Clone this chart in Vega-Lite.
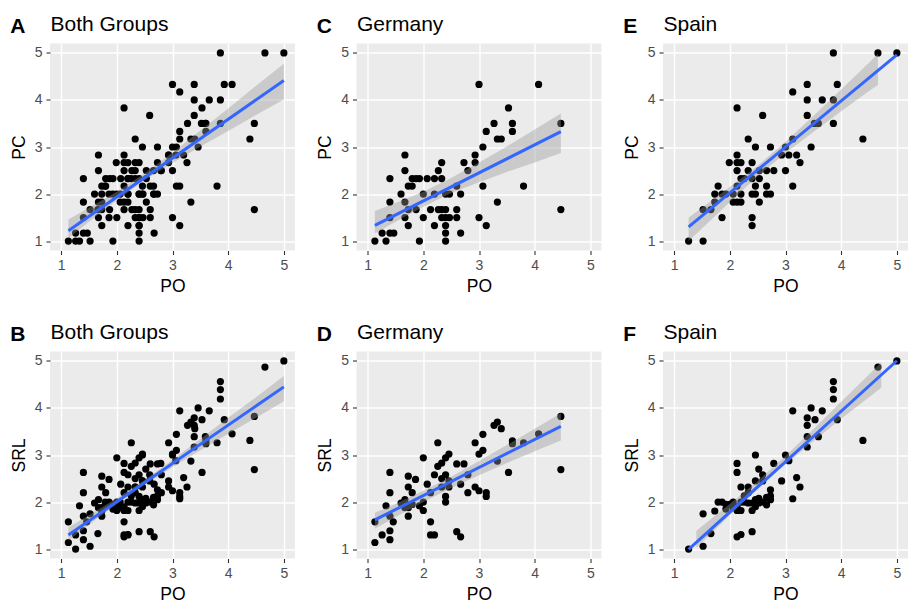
{
"$schema": "https://vega.github.io/schema/vega-lite/v6.json",
"padding": {"left": 10, "top": 13.5, "right": 0, "bottom": 0},
"datasets": {
"pts": [
{"g":"DE","m":"PC","PO":1.13,"v":1},{"g":"DE","m":"PC","PO":1.26,"v":1.17},{"g":"DE","m":"PC","PO":1.33,"v":1},{"g":"DE","m":"PC","PO":1.4,"v":1.17},{"g":"DE","m":"PC","PO":1.47,"v":1.17},{"g":"DE","m":"PC","PO":1.4,"v":2.33},{"g":"DE","m":"PC","PO":1.4,"v":1.83},{"g":"DE","m":"PC","PO":1.4,"v":1.5},{"g":"DE","m":"PC","PO":1.6,"v":2},{"g":"DE","m":"PC","PO":1.67,"v":2.83},{"g":"DE","m":"PC","PO":1.67,"v":2.5},{"g":"DE","m":"PC","PO":1.67,"v":1.83},{"g":"DE","m":"PC","PO":1.67,"v":1.5},{"g":"DE","m":"PC","PO":1.73,"v":1.33},{"g":"DE","m":"PC","PO":1.73,"v":2.17},{"g":"DE","m":"PC","PO":1.8,"v":2.17},{"g":"DE","m":"PC","PO":1.8,"v":2.33},{"g":"DE","m":"PC","PO":1.87,"v":2.33},{"g":"DE","m":"PC","PO":1.93,"v":2.33},{"g":"DE","m":"PC","PO":2.07,"v":2.33},{"g":"DE","m":"PC","PO":1.73,"v":1.67},{"g":"DE","m":"PC","PO":1.87,"v":1.67},{"g":"DE","m":"PC","PO":1.93,"v":1},{"g":"DE","m":"PC","PO":2,"v":2},{"g":"DE","m":"PC","PO":2,"v":1.5},{"g":"DE","m":"PC","PO":2.13,"v":1.67},{"g":"DE","m":"PC","PO":2.2,"v":2},{"g":"DE","m":"PC","PO":2.2,"v":1.33},{"g":"DE","m":"PC","PO":2.2,"v":2.33},{"g":"DE","m":"PC","PO":2.27,"v":2.5},{"g":"DE","m":"PC","PO":2.33,"v":2.67},{"g":"DE","m":"PC","PO":2.33,"v":2.33},{"g":"DE","m":"PC","PO":2.27,"v":1.67},{"g":"DE","m":"PC","PO":2.33,"v":1.67},{"g":"DE","m":"PC","PO":2.4,"v":1.67},{"g":"DE","m":"PC","PO":2.33,"v":1.5},{"g":"DE","m":"PC","PO":2.4,"v":1.5},{"g":"DE","m":"PC","PO":2.4,"v":2},{"g":"DE","m":"PC","PO":2.47,"v":2},{"g":"DE","m":"PC","PO":2.4,"v":1.33},{"g":"DE","m":"PC","PO":2.4,"v":1.17},{"g":"DE","m":"PC","PO":2.4,"v":1},{"g":"DE","m":"PC","PO":2.47,"v":1.5},{"g":"DE","m":"PC","PO":2.6,"v":2.17},{"g":"DE","m":"PC","PO":2.6,"v":1.67},{"g":"DE","m":"PC","PO":2.6,"v":1.5},{"g":"DE","m":"PC","PO":2.67,"v":2},{"g":"DE","m":"PC","PO":2.67,"v":1.17},{"g":"DE","m":"PC","PO":2.73,"v":2.67},{"g":"DE","m":"PC","PO":2.8,"v":2.5},{"g":"DE","m":"PC","PO":2.93,"v":2.83},{"g":"DE","m":"PC","PO":2.93,"v":2.67},{"g":"DE","m":"PC","PO":3,"v":4.33},{"g":"DE","m":"PC","PO":3,"v":1.5},{"g":"DE","m":"PC","PO":3.07,"v":3},{"g":"DE","m":"PC","PO":3.07,"v":2.17},{"g":"DE","m":"PC","PO":3.13,"v":3.33},{"g":"DE","m":"PC","PO":3.13,"v":1.33},{"g":"DE","m":"PC","PO":3.27,"v":3.5},{"g":"DE","m":"PC","PO":3.33,"v":3.17},{"g":"DE","m":"PC","PO":3.4,"v":3.17},{"g":"DE","m":"PC","PO":3.33,"v":1.83},{"g":"DE","m":"PC","PO":3.53,"v":3.83},{"g":"DE","m":"PC","PO":3.6,"v":3.5},{"g":"DE","m":"PC","PO":3.6,"v":3.33},{"g":"DE","m":"PC","PO":3.8,"v":2.17},{"g":"DE","m":"PC","PO":4.07,"v":4.33},{"g":"DE","m":"PC","PO":4.47,"v":3.5},{"g":"DE","m":"PC","PO":4.47,"v":1.67},
{"g":"ES","m":"PC","PO":1.26,"v":1},{"g":"ES","m":"PC","PO":1.52,"v":1},{"g":"ES","m":"PC","PO":1.52,"v":1.67},{"g":"ES","m":"PC","PO":1.66,"v":1.67},{"g":"ES","m":"PC","PO":1.73,"v":1.83},{"g":"ES","m":"PC","PO":1.73,"v":2},{"g":"ES","m":"PC","PO":1.86,"v":2},{"g":"ES","m":"PC","PO":1.79,"v":2.17},{"g":"ES","m":"PC","PO":1.86,"v":1.5},{"g":"ES","m":"PC","PO":1.93,"v":2},{"g":"ES","m":"PC","PO":1.99,"v":2.67},{"g":"ES","m":"PC","PO":2.06,"v":1.83},{"g":"ES","m":"PC","PO":2.13,"v":1.83},{"g":"ES","m":"PC","PO":2.2,"v":1.83},{"g":"ES","m":"PC","PO":2.06,"v":2},{"g":"ES","m":"PC","PO":2.2,"v":2},{"g":"ES","m":"PC","PO":2.13,"v":2.83},{"g":"ES","m":"PC","PO":2.13,"v":3.83},{"g":"ES","m":"PC","PO":2.13,"v":2.67},{"g":"ES","m":"PC","PO":2.2,"v":2.67},{"g":"ES","m":"PC","PO":2.13,"v":2.5},{"g":"ES","m":"PC","PO":2.13,"v":2.17},{"g":"ES","m":"PC","PO":2.2,"v":2.33},{"g":"ES","m":"PC","PO":2.26,"v":2.33},{"g":"ES","m":"PC","PO":2.33,"v":3.17},{"g":"ES","m":"PC","PO":2.33,"v":2.5},{"g":"ES","m":"PC","PO":2.4,"v":2.67},{"g":"ES","m":"PC","PO":2.4,"v":2.33},{"g":"ES","m":"PC","PO":2.4,"v":2},{"g":"ES","m":"PC","PO":2.4,"v":1.5},{"g":"ES","m":"PC","PO":2.4,"v":1.33},{"g":"ES","m":"PC","PO":2.46,"v":3},{"g":"ES","m":"PC","PO":2.46,"v":2.17},{"g":"ES","m":"PC","PO":2.46,"v":2},{"g":"ES","m":"PC","PO":2.53,"v":1.83},{"g":"ES","m":"PC","PO":2.53,"v":2.33},{"g":"ES","m":"PC","PO":2.53,"v":2.5},{"g":"ES","m":"PC","PO":2.59,"v":3.67},{"g":"ES","m":"PC","PO":2.66,"v":2.17},{"g":"ES","m":"PC","PO":2.66,"v":2.5},{"g":"ES","m":"PC","PO":2.66,"v":2},{"g":"ES","m":"PC","PO":2.73,"v":2},{"g":"ES","m":"PC","PO":2.73,"v":3},{"g":"ES","m":"PC","PO":2.79,"v":2.5},{"g":"ES","m":"PC","PO":2.93,"v":2.83},{"g":"ES","m":"PC","PO":3,"v":2.5},{"g":"ES","m":"PC","PO":3,"v":3},{"g":"ES","m":"PC","PO":3.06,"v":2.83},{"g":"ES","m":"PC","PO":3.13,"v":4.17},{"g":"ES","m":"PC","PO":3.13,"v":3.17},{"g":"ES","m":"PC","PO":3.13,"v":2.17},{"g":"ES","m":"PC","PO":3.2,"v":2.83},{"g":"ES","m":"PC","PO":3.26,"v":2.67},{"g":"ES","m":"PC","PO":3.39,"v":4.33},{"g":"ES","m":"PC","PO":3.39,"v":4},{"g":"ES","m":"PC","PO":3.39,"v":3.67},{"g":"ES","m":"PC","PO":3.46,"v":3},{"g":"ES","m":"PC","PO":3.52,"v":3.5},{"g":"ES","m":"PC","PO":3.59,"v":3.5},{"g":"ES","m":"PC","PO":3.66,"v":4},{"g":"ES","m":"PC","PO":3.86,"v":5},{"g":"ES","m":"PC","PO":3.86,"v":4},{"g":"ES","m":"PC","PO":3.86,"v":3.5},{"g":"ES","m":"PC","PO":3.93,"v":4.33},{"g":"ES","m":"PC","PO":4.39,"v":3.17},{"g":"ES","m":"PC","PO":4.66,"v":5},{"g":"ES","m":"PC","PO":5,"v":5},
{"g":"DE","m":"SRL","PO":1.13,"v":1.14},{"g":"DE","m":"SRL","PO":1.13,"v":1.58},{"g":"DE","m":"SRL","PO":1.26,"v":1.3},{"g":"DE","m":"SRL","PO":1.33,"v":1.92},{"g":"DE","m":"SRL","PO":1.4,"v":2.63},{"g":"DE","m":"SRL","PO":1.4,"v":2.2},{"g":"DE","m":"SRL","PO":1.4,"v":1.39},{"g":"DE","m":"SRL","PO":1.4,"v":1.2},{"g":"DE","m":"SRL","PO":1.4,"v":1.7},{"g":"DE","m":"SRL","PO":1.46,"v":1.58},{"g":"DE","m":"SRL","PO":1.6,"v":1.98},{"g":"DE","m":"SRL","PO":1.67,"v":2.05},{"g":"DE","m":"SRL","PO":1.67,"v":1.88},{"g":"DE","m":"SRL","PO":1.73,"v":2.55},{"g":"DE","m":"SRL","PO":1.73,"v":2.32},{"g":"DE","m":"SRL","PO":1.73,"v":1.7},{"g":"DE","m":"SRL","PO":1.73,"v":1.88},{"g":"DE","m":"SRL","PO":1.8,"v":1.95},{"g":"DE","m":"SRL","PO":1.8,"v":2.2},{"g":"DE","m":"SRL","PO":1.86,"v":2.48},{"g":"DE","m":"SRL","PO":1.93,"v":1.92},{"g":"DE","m":"SRL","PO":2,"v":2},{"g":"DE","m":"SRL","PO":2,"v":2.94},{"g":"DE","m":"SRL","PO":2,"v":1.82},{"g":"DE","m":"SRL","PO":2.07,"v":2.38},{"g":"DE","m":"SRL","PO":2.13,"v":1.58},{"g":"DE","m":"SRL","PO":2.13,"v":1.3},{"g":"DE","m":"SRL","PO":2.2,"v":1.3},{"g":"DE","m":"SRL","PO":2.13,"v":2.2},{"g":"DE","m":"SRL","PO":2.2,"v":2.58},{"g":"DE","m":"SRL","PO":2.26,"v":3.26},{"g":"DE","m":"SRL","PO":2.26,"v":2.76},{"g":"DE","m":"SRL","PO":2.33,"v":2.83},{"g":"DE","m":"SRL","PO":2.33,"v":2.32},{"g":"DE","m":"SRL","PO":2.33,"v":2.5},{"g":"DE","m":"SRL","PO":2.4,"v":2.94},{"g":"DE","m":"SRL","PO":2.4,"v":2.58},{"g":"DE","m":"SRL","PO":2.4,"v":2.12},{"g":"DE","m":"SRL","PO":2.4,"v":2},{"g":"DE","m":"SRL","PO":2.46,"v":3.02},{"g":"DE","m":"SRL","PO":2.46,"v":2.32},{"g":"DE","m":"SRL","PO":2.46,"v":2.45},{"g":"DE","m":"SRL","PO":2.6,"v":2.81},{"g":"DE","m":"SRL","PO":2.6,"v":1.37},{"g":"DE","m":"SRL","PO":2.67,"v":1.26},{"g":"DE","m":"SRL","PO":2.67,"v":2.38},{"g":"DE","m":"SRL","PO":2.73,"v":2.81},{"g":"DE","m":"SRL","PO":2.8,"v":2.58},{"g":"DE","m":"SRL","PO":2.8,"v":2.2},{"g":"DE","m":"SRL","PO":2.93,"v":3.26},{"g":"DE","m":"SRL","PO":2.93,"v":2.32},{"g":"DE","m":"SRL","PO":3,"v":3.02},{"g":"DE","m":"SRL","PO":3,"v":2.24},{"g":"DE","m":"SRL","PO":3.07,"v":3.1},{"g":"DE","m":"SRL","PO":3.07,"v":3.44},{"g":"DE","m":"SRL","PO":3.13,"v":2.2},{"g":"DE","m":"SRL","PO":3.13,"v":2.12},{"g":"DE","m":"SRL","PO":3.27,"v":3.63},{"g":"DE","m":"SRL","PO":3.33,"v":3.7},{"g":"DE","m":"SRL","PO":3.4,"v":3.56},{"g":"DE","m":"SRL","PO":3.33,"v":2.87},{"g":"DE","m":"SRL","PO":3.53,"v":2.63},{"g":"DE","m":"SRL","PO":3.6,"v":3.3},{"g":"DE","m":"SRL","PO":3.6,"v":3.24},{"g":"DE","m":"SRL","PO":3.8,"v":3.26},{"g":"DE","m":"SRL","PO":4.07,"v":3.45},{"g":"DE","m":"SRL","PO":4.47,"v":3.82},{"g":"DE","m":"SRL","PO":4.47,"v":2.69},
{"g":"ES","m":"SRL","PO":1.26,"v":1},{"g":"ES","m":"SRL","PO":1.52,"v":1.06},{"g":"ES","m":"SRL","PO":1.52,"v":1.75},{"g":"ES","m":"SRL","PO":1.66,"v":1.33},{"g":"ES","m":"SRL","PO":1.73,"v":1.81},{"g":"ES","m":"SRL","PO":1.79,"v":2},{"g":"ES","m":"SRL","PO":1.86,"v":2},{"g":"ES","m":"SRL","PO":1.93,"v":1.95},{"g":"ES","m":"SRL","PO":1.93,"v":1.85},{"g":"ES","m":"SRL","PO":2,"v":1.95},{"g":"ES","m":"SRL","PO":2.06,"v":2},{"g":"ES","m":"SRL","PO":2.06,"v":1.88},{"g":"ES","m":"SRL","PO":2.13,"v":2.82},{"g":"ES","m":"SRL","PO":2.13,"v":2.63},{"g":"ES","m":"SRL","PO":2.13,"v":1.82},{"g":"ES","m":"SRL","PO":2.13,"v":1.9},{"g":"ES","m":"SRL","PO":2.13,"v":1.26},{"g":"ES","m":"SRL","PO":2.2,"v":1.31},{"g":"ES","m":"SRL","PO":2.2,"v":2.32},{"g":"ES","m":"SRL","PO":2.2,"v":1.82},{"g":"ES","m":"SRL","PO":2.2,"v":2},{"g":"ES","m":"SRL","PO":2.26,"v":2.13},{"g":"ES","m":"SRL","PO":2.26,"v":2},{"g":"ES","m":"SRL","PO":2.33,"v":2.32},{"g":"ES","m":"SRL","PO":2.33,"v":1.98},{"g":"ES","m":"SRL","PO":2.33,"v":2.2},{"g":"ES","m":"SRL","PO":2.4,"v":1.98},{"g":"ES","m":"SRL","PO":2.4,"v":1.82},{"g":"ES","m":"SRL","PO":2.4,"v":1.37},{"g":"ES","m":"SRL","PO":2.46,"v":3},{"g":"ES","m":"SRL","PO":2.46,"v":2.45},{"g":"ES","m":"SRL","PO":2.46,"v":2.05},{"g":"ES","m":"SRL","PO":2.46,"v":1.9},{"g":"ES","m":"SRL","PO":2.52,"v":2.7},{"g":"ES","m":"SRL","PO":2.52,"v":2.08},{"g":"ES","m":"SRL","PO":2.52,"v":1.98},{"g":"ES","m":"SRL","PO":2.59,"v":2.58},{"g":"ES","m":"SRL","PO":2.59,"v":2.45},{"g":"ES","m":"SRL","PO":2.6,"v":2},{"g":"ES","m":"SRL","PO":2.66,"v":1.94},{"g":"ES","m":"SRL","PO":2.66,"v":2.1},{"g":"ES","m":"SRL","PO":2.73,"v":2.13},{"g":"ES","m":"SRL","PO":2.73,"v":2.26},{"g":"ES","m":"SRL","PO":2.73,"v":2.05},{"g":"ES","m":"SRL","PO":2.79,"v":2.82},{"g":"ES","m":"SRL","PO":2.93,"v":2.45},{"g":"ES","m":"SRL","PO":3,"v":3},{"g":"ES","m":"SRL","PO":3.06,"v":2.88},{"g":"ES","m":"SRL","PO":3.13,"v":3.94},{"g":"ES","m":"SRL","PO":3.13,"v":2.07},{"g":"ES","m":"SRL","PO":3.2,"v":2.52},{"g":"ES","m":"SRL","PO":3.26,"v":2.32},{"g":"ES","m":"SRL","PO":3.39,"v":3.79},{"g":"ES","m":"SRL","PO":3.39,"v":3.63},{"g":"ES","m":"SRL","PO":3.39,"v":3.39},{"g":"ES","m":"SRL","PO":3.39,"v":3.17},{"g":"ES","m":"SRL","PO":3.46,"v":4},{"g":"ES","m":"SRL","PO":3.53,"v":3.75},{"g":"ES","m":"SRL","PO":3.59,"v":3.39},{"g":"ES","m":"SRL","PO":3.66,"v":3.94},{"g":"ES","m":"SRL","PO":3.86,"v":4.56},{"g":"ES","m":"SRL","PO":3.86,"v":4.39},{"g":"ES","m":"SRL","PO":3.86,"v":4.19},{"g":"ES","m":"SRL","PO":3.93,"v":3.75},{"g":"ES","m":"SRL","PO":4.39,"v":3.31},{"g":"ES","m":"SRL","PO":4.66,"v":4.87},{"g":"ES","m":"SRL","PO":5,"v":5}
],
"band": [
{"p":"A","x":1.13,"lo":1.06,"hi":1.46},{"p":"A","x":1.5,"lo":1.41,"hi":1.71},{"p":"A","x":2,"lo":1.87,"hi":2.05},{"p":"A","x":2.5,"lo":2.3,"hi":2.44},{"p":"A","x":3,"lo":2.66,"hi":2.88},{"p":"A","x":3.5,"lo":3.01,"hi":3.35},{"p":"A","x":4,"lo":3.34,"hi":3.82},{"p":"A","x":4.5,"lo":3.68,"hi":4.3},{"p":"A","x":5,"lo":4.01,"hi":4.77},
{"p":"B","x":1.13,"lo":1.18,"hi":1.46},{"p":"B","x":1.5,"lo":1.52,"hi":1.72},{"p":"B","x":2,"lo":1.96,"hi":2.08},{"p":"B","x":2.5,"lo":2.37,"hi":2.47},{"p":"B","x":3,"lo":2.74,"hi":2.9},{"p":"B","x":3.5,"lo":3.1,"hi":3.34},{"p":"B","x":4,"lo":3.45,"hi":3.79},{"p":"B","x":4.5,"lo":3.79,"hi":4.23},{"p":"B","x":5,"lo":4.14,"hi":4.68},
{"p":"C","x":1.13,"lo":1.16,"hi":1.64},{"p":"C","x":1.5,"lo":1.41,"hi":1.81},{"p":"C","x":2,"lo":1.73,"hi":2.05},{"p":"C","x":2.5,"lo":2.02,"hi":2.34},{"p":"C","x":3,"lo":2.25,"hi":2.67},{"p":"C","x":3.5,"lo":2.47,"hi":3.01},{"p":"C","x":4,"lo":2.67,"hi":3.37},{"p":"C","x":4.47,"lo":2.87,"hi":3.71},
{"p":"D","x":1.13,"lo":1.43,"hi":1.77},{"p":"D","x":1.5,"lo":1.68,"hi":1.96},{"p":"D","x":2,"lo":2.0,"hi":2.24},{"p":"D","x":2.5,"lo":2.3,"hi":2.54},{"p":"D","x":3,"lo":2.57,"hi":2.87},{"p":"D","x":3.5,"lo":2.83,"hi":3.21},{"p":"D","x":4,"lo":3.08,"hi":3.56},{"p":"D","x":4.47,"lo":3.31,"hi":3.89},
{"p":"E","x":1.26,"lo":1.0,"hi":1.5},{"p":"E","x":1.5,"lo":1.27,"hi":1.71},{"p":"E","x":2,"lo":1.83,"hi":2.15},{"p":"E","x":2.5,"lo":2.38,"hi":2.6},{"p":"E","x":3,"lo":2.87,"hi":3.11},{"p":"E","x":3.5,"lo":3.32,"hi":3.66},{"p":"E","x":4,"lo":3.76,"hi":4.22},{"p":"E","x":4.5,"lo":4.19,"hi":4.79},{"p":"E","x":4.66,"lo":4.32,"hi":4.98},
{"p":"F","x":1.4,"lo":1.03,"hi":1.39},{"p":"F","x":2,"lo":1.72,"hi":1.96},{"p":"F","x":2.5,"lo":2.29,"hi":2.45},{"p":"F","x":3,"lo":2.8,"hi":2.98},{"p":"F","x":3.5,"lo":3.29,"hi":3.55},{"p":"F","x":4,"lo":3.77,"hi":4.13},{"p":"F","x":4.5,"lo":4.23,"hi":4.71},{"p":"F","x":4.72,"lo":4.43,"hi":4.97}
]
},
"bounds": "flush",
"columns": 3,
"spacing": {"row": 101, "column": 61.5},
"concat": [
{"title": "A", "width": 245, "height": 207, "layer": [
 {"data": {"name": "pts"}, "transform": [{"filter": "datum.m == 'PC'"}], "mark": {"type": "circle", "size": 52, "opacity": 1, "color": "black"},
  "encoding": {"x": {"field": "PO", "type": "quantitative", "scale": {"domain": [0.8, 5.2], "nice": false, "zero": false}, "axis": {"orient": "bottom", "values": [1,2,3,4,5], "title": "PO"}},
   "y": {"field": "v", "type": "quantitative", "scale": {"domain": [0.8, 5.2], "nice": false, "zero": false}, "axis": {"orient": "left", "values": [1,2,3,4,5], "title": "PC"}}}},
 {"data": {"name": "band"}, "transform": [{"filter": "datum.p == 'A'"}], "mark": {"type": "area", "color": "#999999", "opacity": 0.4},
  "encoding": {"x": {"field": "x", "type": "quantitative", "axis": {"orient": "top", "values": [1.5,2.5,3.5,4.5], "title": "Both Groups"}},
   "y": {"field": "lo", "type": "quantitative", "axis": {"orient": "right", "values": [1.5,2.5,3.5,4.5], "title": null}}, "y2": {"field": "hi"}}},
 {"data": {"name": "pts"}, "transform": [{"filter": "datum.m == 'PC'"}, {"regression": "v", "on": "PO"}], "mark": {"type": "line", "color": "#3366FF", "strokeWidth": 3},
  "encoding": {"x": {"field": "PO", "type": "quantitative", "axis": null}, "y": {"field": "v", "type": "quantitative", "axis": null}}}
]},
{"title": "C", "width": 245, "height": 207, "layer": [
 {"data": {"name": "pts"}, "transform": [{"filter": "datum.m == 'PC' && datum.g == 'DE'"}], "mark": {"type": "circle", "size": 52, "opacity": 1, "color": "black"},
  "encoding": {"x": {"field": "PO", "type": "quantitative", "scale": {"domain": [0.8, 5.2], "nice": false, "zero": false}, "axis": {"orient": "bottom", "values": [1,2,3,4,5], "title": "PO"}},
   "y": {"field": "v", "type": "quantitative", "scale": {"domain": [0.8, 5.2], "nice": false, "zero": false}, "axis": {"orient": "left", "values": [1,2,3,4,5], "title": "PC"}}}},
 {"data": {"name": "band"}, "transform": [{"filter": "datum.p == 'C'"}], "mark": {"type": "area", "color": "#999999", "opacity": 0.4},
  "encoding": {"x": {"field": "x", "type": "quantitative", "axis": {"orient": "top", "values": [1.5,2.5,3.5,4.5], "title": "Germany"}},
   "y": {"field": "lo", "type": "quantitative", "axis": {"orient": "right", "values": [1.5,2.5,3.5,4.5], "title": null}}, "y2": {"field": "hi"}}},
 {"data": {"name": "pts"}, "transform": [{"filter": "datum.m == 'PC' && datum.g == 'DE'"}, {"regression": "v", "on": "PO"}], "mark": {"type": "line", "color": "#3366FF", "strokeWidth": 3},
  "encoding": {"x": {"field": "PO", "type": "quantitative", "axis": null}, "y": {"field": "v", "type": "quantitative", "axis": null}}}
]},
{"title": "E", "width": 245, "height": 207, "layer": [
 {"data": {"name": "pts"}, "transform": [{"filter": "datum.m == 'PC' && datum.g == 'ES'"}], "mark": {"type": "circle", "size": 52, "opacity": 1, "color": "black"},
  "encoding": {"x": {"field": "PO", "type": "quantitative", "scale": {"domain": [0.8, 5.2], "nice": false, "zero": false}, "axis": {"orient": "bottom", "values": [1,2,3,4,5], "title": "PO"}},
   "y": {"field": "v", "type": "quantitative", "scale": {"domain": [0.8, 5.2], "nice": false, "zero": false}, "axis": {"orient": "left", "values": [1,2,3,4,5], "title": "PC"}}}},
 {"data": {"name": "band"}, "transform": [{"filter": "datum.p == 'E'"}], "mark": {"type": "area", "color": "#999999", "opacity": 0.4},
  "encoding": {"x": {"field": "x", "type": "quantitative", "axis": {"orient": "top", "values": [1.5,2.5,3.5,4.5], "title": "Spain"}},
   "y": {"field": "lo", "type": "quantitative", "axis": {"orient": "right", "values": [1.5,2.5,3.5,4.5], "title": null}}, "y2": {"field": "hi"}}},
 {"data": {"name": "pts"}, "transform": [{"filter": "datum.m == 'PC' && datum.g == 'ES'"}, {"regression": "v", "on": "PO"}], "mark": {"type": "line", "color": "#3366FF", "strokeWidth": 3},
  "encoding": {"x": {"field": "PO", "type": "quantitative", "axis": null}, "y": {"field": "v", "type": "quantitative", "axis": null}}}
]},
{"title": "B", "width": 245, "height": 207, "layer": [
 {"data": {"name": "pts"}, "transform": [{"filter": "datum.m == 'SRL'"}], "mark": {"type": "circle", "size": 52, "opacity": 1, "color": "black"},
  "encoding": {"x": {"field": "PO", "type": "quantitative", "scale": {"domain": [0.8, 5.2], "nice": false, "zero": false}, "axis": {"orient": "bottom", "values": [1,2,3,4,5], "title": "PO"}},
   "y": {"field": "v", "type": "quantitative", "scale": {"domain": [0.8, 5.2], "nice": false, "zero": false}, "axis": {"orient": "left", "values": [1,2,3,4,5], "title": "SRL"}}}},
 {"data": {"name": "band"}, "transform": [{"filter": "datum.p == 'B'"}], "mark": {"type": "area", "color": "#999999", "opacity": 0.4},
  "encoding": {"x": {"field": "x", "type": "quantitative", "axis": {"orient": "top", "values": [1.5,2.5,3.5,4.5], "title": "Both Groups"}},
   "y": {"field": "lo", "type": "quantitative", "axis": {"orient": "right", "values": [1.5,2.5,3.5,4.5], "title": null}}, "y2": {"field": "hi"}}},
 {"data": {"name": "pts"}, "transform": [{"filter": "datum.m == 'SRL'"}, {"regression": "v", "on": "PO"}], "mark": {"type": "line", "color": "#3366FF", "strokeWidth": 3},
  "encoding": {"x": {"field": "PO", "type": "quantitative", "axis": null}, "y": {"field": "v", "type": "quantitative", "axis": null}}}
]},
{"title": "D", "width": 245, "height": 207, "layer": [
 {"data": {"name": "pts"}, "transform": [{"filter": "datum.m == 'SRL' && datum.g == 'DE'"}], "mark": {"type": "circle", "size": 52, "opacity": 1, "color": "black"},
  "encoding": {"x": {"field": "PO", "type": "quantitative", "scale": {"domain": [0.8, 5.2], "nice": false, "zero": false}, "axis": {"orient": "bottom", "values": [1,2,3,4,5], "title": "PO"}},
   "y": {"field": "v", "type": "quantitative", "scale": {"domain": [0.8, 5.2], "nice": false, "zero": false}, "axis": {"orient": "left", "values": [1,2,3,4,5], "title": "SRL"}}}},
 {"data": {"name": "band"}, "transform": [{"filter": "datum.p == 'D'"}], "mark": {"type": "area", "color": "#999999", "opacity": 0.4},
  "encoding": {"x": {"field": "x", "type": "quantitative", "axis": {"orient": "top", "values": [1.5,2.5,3.5,4.5], "title": "Germany"}},
   "y": {"field": "lo", "type": "quantitative", "axis": {"orient": "right", "values": [1.5,2.5,3.5,4.5], "title": null}}, "y2": {"field": "hi"}}},
 {"data": {"name": "pts"}, "transform": [{"filter": "datum.m == 'SRL' && datum.g == 'DE'"}, {"regression": "v", "on": "PO"}], "mark": {"type": "line", "color": "#3366FF", "strokeWidth": 3},
  "encoding": {"x": {"field": "PO", "type": "quantitative", "axis": null}, "y": {"field": "v", "type": "quantitative", "axis": null}}}
]},
{"title": "F", "width": 245, "height": 207, "layer": [
 {"data": {"name": "pts"}, "transform": [{"filter": "datum.m == 'SRL' && datum.g == 'ES'"}], "mark": {"type": "circle", "size": 52, "opacity": 1, "color": "black"},
  "encoding": {"x": {"field": "PO", "type": "quantitative", "scale": {"domain": [0.8, 5.2], "nice": false, "zero": false}, "axis": {"orient": "bottom", "values": [1,2,3,4,5], "title": "PO"}},
   "y": {"field": "v", "type": "quantitative", "scale": {"domain": [0.8, 5.2], "nice": false, "zero": false}, "axis": {"orient": "left", "values": [1,2,3,4,5], "title": "SRL"}}}},
 {"data": {"name": "band"}, "transform": [{"filter": "datum.p == 'F'"}], "mark": {"type": "area", "color": "#999999", "opacity": 0.4},
  "encoding": {"x": {"field": "x", "type": "quantitative", "axis": {"orient": "top", "values": [1.5,2.5,3.5,4.5], "title": "Spain"}},
   "y": {"field": "lo", "type": "quantitative", "axis": {"orient": "right", "values": [1.5,2.5,3.5,4.5], "title": null}}, "y2": {"field": "hi"}}},
 {"data": {"name": "pts"}, "transform": [{"filter": "datum.m == 'SRL' && datum.g == 'ES'"}, {"regression": "v", "on": "PO"}], "mark": {"type": "line", "color": "#3366FF", "strokeWidth": 3},
  "encoding": {"x": {"field": "PO", "type": "quantitative", "axis": null}, "y": {"field": "v", "type": "quantitative", "axis": null}}}
]}
],
"config": {
 "font": "Liberation Sans",
 "view": {"fill": "#EBEBEB", "stroke": null},
 "axis": {"domain": false, "gridColor": "white", "labelFont": "Liberation Sans", "titleFont": "Liberation Sans", "titleFontWeight": "normal", "titleColor": "black"},
 "axisBottom": {"grid": true, "gridWidth": 1.4, "tickColor": "#333333", "tickSize": 4, "tickWidth": 1.1, "labelColor": "#4D4D4D", "labelFontSize": 14, "labelPadding": 4, "titleFontSize": 17.5, "titlePadding": 5},
 "axisLeft": {"grid": true, "gridWidth": 1.4, "tickColor": "#333333", "tickSize": 4, "tickWidth": 1.1, "labelColor": "#4D4D4D", "labelFontSize": 14, "labelPadding": 4, "titleFontSize": 17.5, "titlePadding": 6},
 "axisTop": {"grid": true, "gridWidth": 0.7, "labels": false, "ticks": false, "titleFontSize": 21, "titleAnchor": "start", "titleAlign": "left", "titleBaseline": "alphabetic", "titlePadding": 13},
 "axisRight": {"grid": true, "gridWidth": 0.7, "labels": false, "ticks": false},
 "title": {"font": "Liberation Sans", "fontSize": 21, "fontWeight": "bold", "color": "black", "anchor": "start", "frame": "bounds", "dy": 27}
}
}
